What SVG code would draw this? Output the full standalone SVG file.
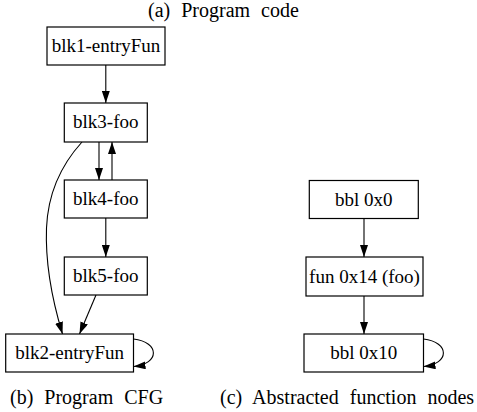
<svg xmlns="http://www.w3.org/2000/svg" width="477" height="412" viewBox="0 0 477 412">
<defs>
<style>
.box{fill:#fff;stroke:#000;stroke-width:1.2}
.lbl{font-family:"Liberation Serif","Times New Roman",serif;font-size:19px;text-anchor:middle;fill:#000}
.cap{font-family:"Liberation Serif","Times New Roman",serif;font-size:20px;fill:#000;word-spacing:6px}
.edge{fill:none;stroke:#000;stroke-width:1.1}
</style>
<marker id="ah" markerWidth="12" markerHeight="8" refX="12" refY="4" orient="auto" markerUnits="userSpaceOnUse">
<path d="M0,0 L12,4 L0,8 Z" fill="#000"/>
</marker>
</defs>
<rect width="477" height="412" fill="#fff"/>
<text class="cap" x="148" y="17">(a) Program code</text>
<text class="cap" x="10" y="404">(b) Program CFG</text>
<text class="cap" x="220" y="404">(c) Abstracted function nodes</text>
<g id="connectors">
<path class="edge" d="M105.8,65 L105.8,103" marker-end="url(#ah)"/>
<path class="edge" d="M99,142 L99,180" marker-end="url(#ah)"/>
<path class="edge" d="M112,180 L112,142" marker-end="url(#ah)"/>
<path class="edge" d="M105.8,218 L105.8,257" marker-end="url(#ah)"/>
<path class="edge" d="M82,142 C62,164 48,192 46.5,228 C45,268 54,306 62.5,334" marker-end="url(#ah)"/>
<path class="edge" d="M96,295 L79.5,334" marker-end="url(#ah)"/>
<path class="edge" d="M133.5,339 C160,342 160,364 133.5,366.5" marker-end="url(#ah)"/>
<path class="edge" d="M364,218.5 L364,257" marker-end="url(#ah)"/>
<path class="edge" d="M364,296 L364,334" marker-end="url(#ah)"/>
<path class="edge" d="M423.5,339 C450,342 450,364 423.5,366.5" marker-end="url(#ah)"/>
</g>
<g id="blk1"><rect class="box" x="47" y="27" width="118" height="38"/><text class="lbl" x="106" y="52">blk1-entryFun</text></g>
<g id="blk3"><rect class="box" x="64.3" y="103" width="83" height="39"/><text class="lbl" x="105.8" y="128">blk3-foo</text></g>
<g id="blk4"><rect class="box" x="64.3" y="180" width="83" height="38"/><text class="lbl" x="105.8" y="205">blk4-foo</text></g>
<g id="blk5"><rect class="box" x="64.3" y="257" width="83" height="38"/><text class="lbl" x="105.8" y="282">blk5-foo</text></g>
<g id="blk2"><rect class="box" x="5.7" y="334" width="127.8" height="38"/><text class="lbl" x="69.6" y="359">blk2-entryFun</text></g>
<g id="bbl0"><rect class="box" x="309.3" y="180.5" width="109" height="38"/><text class="lbl" x="363.8" y="205.5">bbl 0x0</text></g>
<g id="fun14"><rect class="box" x="306" y="257" width="117" height="39"/><text class="lbl" x="364.5" y="282.5">fun 0x14 (foo)</text></g>
<g id="bbl10"><rect class="box" x="304" y="334" width="119.5" height="38"/><text class="lbl" x="363.8" y="359">bbl 0x10</text></g>
</svg>
